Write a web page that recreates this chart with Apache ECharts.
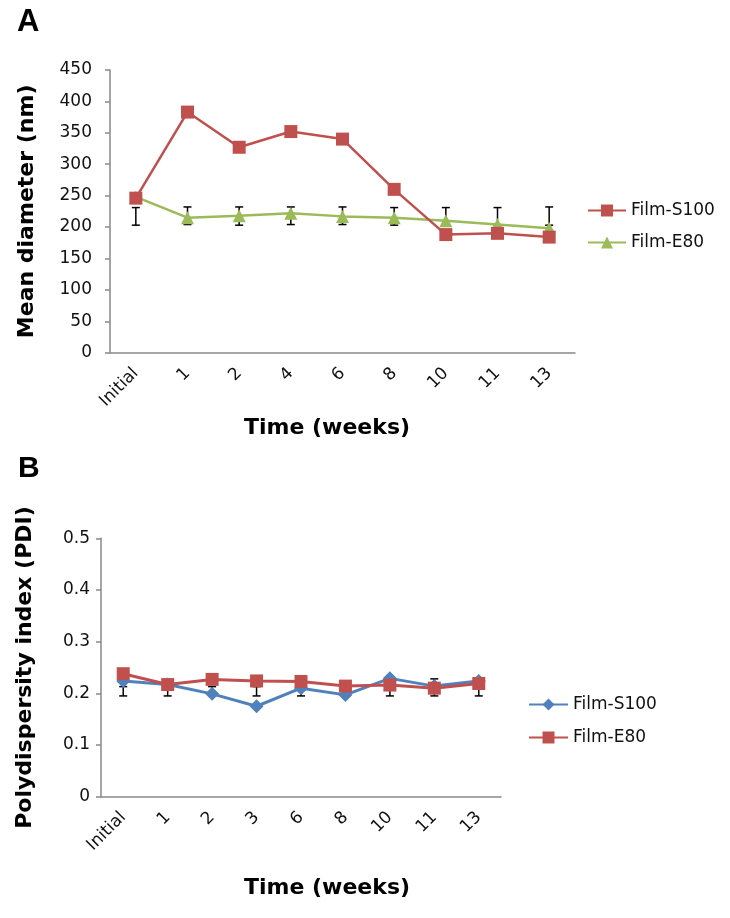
<!DOCTYPE html>
<html>
<head>
<meta charset="utf-8">
<script src="https://cdn.jsdelivr.net/npm/echarts@6/dist/echarts.min.js"></script>
<style>
html,body{margin:0;padding:0;background:#fff;}
#chart{width:730px;height:918px;}
</style>
</head>
<body>
<div id="chart"></div>
<script>
// ---- Panel A data ----
const catsA = ['Initial', '1', '2', '4', '6', '8', '10', '11', '13'];
const diamS100 = [246, 383, 327, 352, 340, 260, 188, 190, 184];
const diamE80 = [248, 215, 218, 222, 217, 215, 210, 204, 198];
const errA_low = [203, 204, 203, 204, 204, 203, 203, 203, 203];
const errA_high = [231, 232, 232, 232, 232, 231, 231, 231, 232];
const yTicksA = [0, 50, 100, 150, 200, 250, 300, 350, 400, 450];

// ---- Panel B data ----
const catsB = ['Initial', '1', '2', '3', '6', '8', '10', '11', '13'];
const pdiS100 = [0.224, 0.217, 0.199, 0.175, 0.210, 0.197, 0.229, 0.214, 0.224];
const pdiE80 = [0.238, 0.217, 0.227, 0.224, 0.223, 0.214, 0.216, 0.210, 0.219];
const errB_low = [0.195, 0.195, 0.195, 0.195, 0.195, 0.195, 0.195, 0.195, 0.195];
const errB_high = [0.213, 0.213, 0.213, 0.213, 0.213, 0.213, 0.213, 0.228, 0.213];
const yTicksB = [0, 0.1, 0.2, 0.3, 0.4, 0.5];

const FONT = '"DejaVu Sans", Arial, sans-serif';
const AXIS_COLOR = '#898989';
const TXT = '#111';

function errData(low, high) {
  return low.map((l, i) => [i, l, high[i]]);
}
function errRender(capHalf) {
  return function (params, api) {
    const lo = api.coord([api.value(0), api.value(1)]);
    const hi = api.coord([api.value(0), api.value(2)]);
    const st = { stroke: '#000', lineWidth: 1.5 };
    return {
      type: 'group',
      children: [
        { type: 'line', shape: { x1: lo[0], y1: lo[1], x2: hi[0], y2: hi[1] }, style: st },
        { type: 'line', shape: { x1: lo[0] - capHalf, y1: lo[1], x2: lo[0] + capHalf, y2: lo[1] }, style: st },
        { type: 'line', shape: { x1: hi[0] - capHalf, y1: hi[1], x2: hi[0] + capHalf, y2: hi[1] }, style: st }
      ]
    };
  };
}

const chart = echarts.init(document.getElementById('chart'), null, { renderer: 'canvas' });

function xAxisCfg(idx, cats) {
  return {
    type: 'category', gridIndex: idx, data: cats,
    axisLine: { lineStyle: { color: AXIS_COLOR, width: 1.5 } },
    axisTick: { show: false },
    axisLabel: { interval: 0, rotate: 45, fontSize: 17, color: TXT, fontFamily: FONT, margin: 18 },
    splitLine: { show: false }
  };
}
function yAxisCfg(idx, min, max, interval, name, gap, margin) {
  return {
    type: 'value', gridIndex: idx, min: min, max: max, interval: interval,
    name: name, nameLocation: 'middle', nameGap: gap,
    nameTextStyle: { fontSize: 22, fontWeight: 'bold', color: '#000', fontFamily: FONT },
    axisLine: { show: true, lineStyle: { color: AXIS_COLOR, width: 1.5 } },
    axisTick: { show: true, length: 5, lineStyle: { color: AXIS_COLOR, width: 1.5 } },
    axisLabel: { fontSize: 17, color: TXT, fontFamily: FONT, margin: margin },
    splitLine: { show: false }
  };
}

const option = {
  animation: false,
  backgroundColor: '#fff',
  title: [
    { text: 'A', left: 12, top: 2, textStyle: { fontSize: 31, fontWeight: 'bold', color: '#000', fontFamily: 'Liberation Sans, Arial, sans-serif' } },
    { text: 'B', left: 13, top: 449, textStyle: { fontSize: 30, fontWeight: 'bold', color: '#000', fontFamily: 'Liberation Sans, Arial, sans-serif' } }
  ],
  grid: [
    { left: 110, top: 70, width: 465, height: 282.7, containLabel: false },
    { left: 101, top: 538.3, width: 400, height: 258.4, containLabel: false }
  ],
  xAxis: [xAxisCfg(0, catsA), xAxisCfg(1, catsB)],
  yAxis: [
    yAxisCfg(0, yTicksA[0], yTicksA[yTicksA.length - 1], yTicksA[1] - yTicksA[0], 'Mean diameter (nm)', 72, 18),
    yAxisCfg(1, yTicksB[0], yTicksB[yTicksB.length - 1], 0.1, 'Polydispersity index (PDI)', 65, 11)
  ],
  legend: [
    {
      data: ['A::Film-S100', 'A::Film-E80'],
      formatter: n => n.split('::')[1],
      orient: 'vertical', left: 587, top: 202, padding: 0,
      itemWidth: 38, itemHeight: 15, itemGap: 15,
      textStyle: { fontSize: 17, color: TXT, fontFamily: FONT },
      selectedMode: false
    },
    {
      data: ['B::Film-S100', 'B::Film-E80'],
      formatter: n => n.split('::')[1],
      orient: 'vertical', left: 528, top: 696, padding: 0,
      itemWidth: 39, itemHeight: 15, itemGap: 16,
      textStyle: { fontSize: 17, color: TXT, fontFamily: FONT },
      selectedMode: false
    }
  ],
  graphic: [
    { type: 'text', x: 327, y: 428, style: { text: 'Time (weeks)', font: 'bold 22px "DejaVu Sans", Arial, sans-serif', fill: '#000', align: 'center', verticalAlign: 'middle' } },
    { type: 'text', x: 327, y: 888, style: { text: 'Time (weeks)', font: 'bold 22px "DejaVu Sans", Arial, sans-serif', fill: '#000', align: 'center', verticalAlign: 'middle' } }
  ],
  series: [
    {
      type: 'custom', xAxisIndex: 0, yAxisIndex: 0, z: 1,
      renderItem: errRender(4), data: errData(errA_low, errA_high),
      encode: { x: 0, y: [1, 2] }, silent: true
    },
    {
      name: 'A::Film-S100', type: 'line', xAxisIndex: 0, yAxisIndex: 0, z: 3,
      data: diamS100, symbol: 'rect', symbolSize: 13,
      lineStyle: { color: '#C0504D', width: 2.5 }, itemStyle: { color: '#C0504D' }
    },
    {
      name: 'A::Film-E80', type: 'line', xAxisIndex: 0, yAxisIndex: 0, z: 2,
      data: diamE80, symbol: 'triangle', symbolSize: 13,
      lineStyle: { color: '#9BBB59', width: 2.5 }, itemStyle: { color: '#9BBB59' }
    },
    {
      type: 'custom', xAxisIndex: 1, yAxisIndex: 1, z: 1,
      renderItem: errRender(4), data: errData(errB_low, errB_high),
      encode: { x: 0, y: [1, 2] }, silent: true
    },
    {
      name: 'B::Film-S100', type: 'line', xAxisIndex: 1, yAxisIndex: 1, z: 2,
      data: pdiS100, symbol: 'diamond', symbolSize: 14,
      lineStyle: { color: '#4F81BD', width: 3 }, itemStyle: { color: '#4F81BD' }
    },
    {
      name: 'B::Film-E80', type: 'line', xAxisIndex: 1, yAxisIndex: 1, z: 3,
      data: pdiE80, symbol: 'rect', symbolSize: 13,
      lineStyle: { color: '#C0504D', width: 3 }, itemStyle: { color: '#C0504D' }
    }
  ]
};
chart.setOption(option);
</script>
</body>
</html>
